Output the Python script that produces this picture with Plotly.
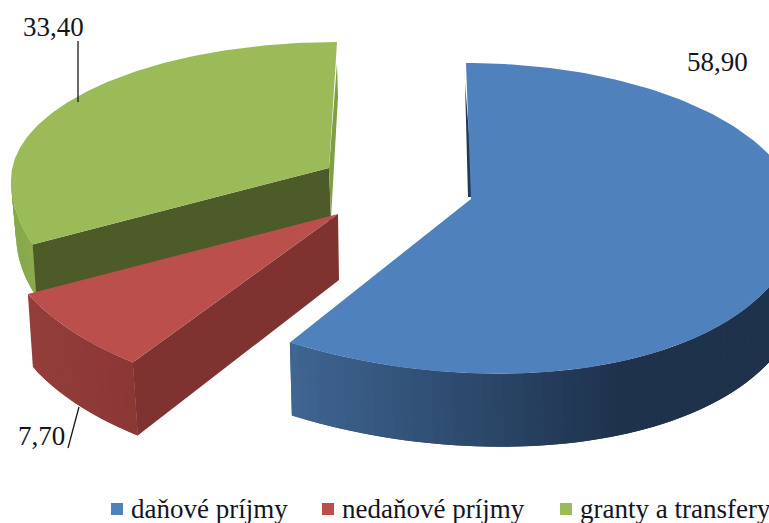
import numpy as np
import plotly.graph_objects as go

# Data
categories = ["daňové príjmy", "nedaňové príjmy", "granty a transfery"]
values = [58.90, 7.70, 33.40]
value_labels = ["58,90", "7,70", "33,40"]

# Colours
top_colors = ["#4f81bd", "#bb4f4c", "#9bbb59"]
FONT = "Liberation Serif"
W, H = 769, 523

# 3D projection of each exploded slice, in picture space
geom = [
    dict(apex=(471, 199), c=(466, 218), rx=332, ry_b=155, ry_f=155, off=0, warp=1.0, tilt=15.5),
    dict(apex=(338, 214), c=(338, 214), rx=344, ry_b=185, ry_f=185, off=4.6, warp=1.0, tilt=0),
    dict(apex=(329, 168), c=(337, 180), rx=326, ry_b=138, ry_f=180, off=None, warp=0.923, tilt=0),
]


def arc(g, u):
    u = np.radians(np.asarray(u, dtype=float))
    cos = np.cos(u)
    sin = np.sin(u)
    ry = np.where(cos >= 0, g["ry_b"], g["ry_f"])
    lean = np.where(cos < 0, g["tilt"] * sin * np.abs(cos), 0.0)
    return g["c"][0] + g["rx"] * sin, g["c"][1] - ry * cos + lean


def lerp_hex(a, b, f):
    f = min(max(f, 0), 1)
    ca = [int(a[i:i + 2], 16) for i in (1, 3, 5)]
    cb = [int(b[i:i + 2], 16) for i in (1, 3, 5)]
    return "#%02x%02x%02x" % tuple(round(p + (q - p) * f) for p, q in zip(ca, cb))


fig = go.Figure()


def poly(xs, ys, color):
    fig.add_trace(go.Scatter(x=list(xs), y=list(ys), mode="lines", fill="toself", fillcolor=color,
                             line=dict(color=color, width=0), hoverinfo="skip", showlegend=False))


def wall(g, u0, u1, d, c0, c1, x0, x1, n=50):
    """Side wall from u0 to u1; each quad overlaps the next so no seams show."""
    us = np.linspace(u0, u1, n + 1)
    xs, ys = arc(g, us)
    for i in range(n, 0, -1):
        j = max(i - 2, 0)
        f = (0.5 * (xs[i] + xs[i - 1]) - x0) / (x1 - x0)
        poly([xs[j], xs[i], xs[i] + d[0], xs[j] + d[0]],
             [ys[j], ys[i], ys[i] + d[1], ys[j] + d[1]], lerp_hex(c0, c1, f))


# slice angle ranges come from the values
sweeps = [v / sum(values) * 360 for v in values]
starts = np.concatenate([[0], np.cumsum(sweeps)[:-1]])
ranges = []
for i, g in enumerate(geom):
    if g["off"] is None:                # last slice closes at 360 degrees
        u1 = 360.0
        u0 = u1 - sweeps[i] * g["warp"]
    else:
        u0 = starts[i] + g["off"]
        u1 = u0 + sweeps[i] * g["warp"]
    ranges.append((u0, u1))


def top(i):
    g = geom[i]
    us = np.linspace(*ranges[i], 160)
    xs, ys = arc(g, us)
    poly([g["apex"][0], *xs], [g["apex"][1], *ys], top_colors[i])


# Blue slice
g = geom[0]
u0, u1 = ranges[0]
wall(g, u1, 90, (2, 73), "#3f6592", "#1e324c", 291, 620, n=70)
x0, y0 = arc(g, u0)
poly([float(x0) - 1, g["apex"][0] - 3, g["apex"][0] + 3], [float(y0) + 20, g["apex"][1] - 2, g["apex"][1] - 2], "#1f3a58")
top(0)

# Green slice
g = geom[2]
u0, u1 = ranges[2]
wall(g, u0, 272, (5, 54), "#8cab4e", "#86a84a", 33, 11, n=20)
cx, cy = arc(g, u0)
poly([g["apex"][0], float(cx), float(cx) + 4, g["apex"][0] + 2],
     [g["apex"][1], float(cy), float(cy) + 56, g["apex"][1] + 52], "#4c5b27")
x1, y1 = arc(g, u1)
poly([float(x1), float(x1) + 1, g["apex"][0] + 2, g["apex"][0]],
     [float(y1) + 21, float(y1) + 55, g["apex"][1] + 50, g["apex"][1]], "#7f9f45")
top(2)

# Red slice
g = geom[1]
u0, u1 = ranges[1]
wall(g, u0, u1, (5, 73), "#8a3735", "#943e3b", 133, 30, n=24)
fx, fy = arc(g, u0)
poly([g["apex"][0], float(fx), float(fx) + 5, g["apex"][0] + 1],
     [g["apex"][1], float(fy), float(fy) + 73, g["apex"][1] + 66], "#7f3331")
top(1)

# Leader lines
for lx, ly in [([78, 78], [41, 102]), ([79, 68], [407, 448])]:
    fig.add_trace(go.Scatter(x=lx, y=ly, mode="lines", line=dict(color="#1a1a1a", width=1.3),
                             hoverinfo="skip", showlegend=False))

# Legend
legend_x = [117, 328, 566]
for name, color, lx in zip(categories, top_colors, legend_x):
    fig.add_trace(go.Scatter(x=[lx], y=[509], mode="markers",
                             marker=dict(symbol="square", size=12, color=color),
                             hoverinfo="skip", showlegend=False))
    fig.add_annotation(x=lx + 12, y=509, text=name, showarrow=False, xanchor="left", yanchor="middle",
                       xref="x", yref="y", font=dict(family=FONT, size=27, color="#14141f"))

# Value labels
for text, (lx, ly) in zip(value_labels, [(717, 62), (41, 436), (53, 27)]):
    fig.add_annotation(x=lx, y=ly, text=text, showarrow=False, xanchor="center", yanchor="middle",
                       xref="x", yref="y", font=dict(family=FONT, size=27, color="#14141f"))

fig.update_layout(
    width=W, height=H, margin=dict(l=0, r=0, t=0, b=0), showlegend=False,
    paper_bgcolor="white", plot_bgcolor="white",
    xaxis=dict(range=[0, W], visible=False, fixedrange=True),
    yaxis=dict(range=[H, 0], visible=False, fixedrange=True),
)
fig.write_html("out.html", config=dict(displayModeBar=False),
               post_script="document.body.style.margin='0';document.body.style.overflow='hidden';")
